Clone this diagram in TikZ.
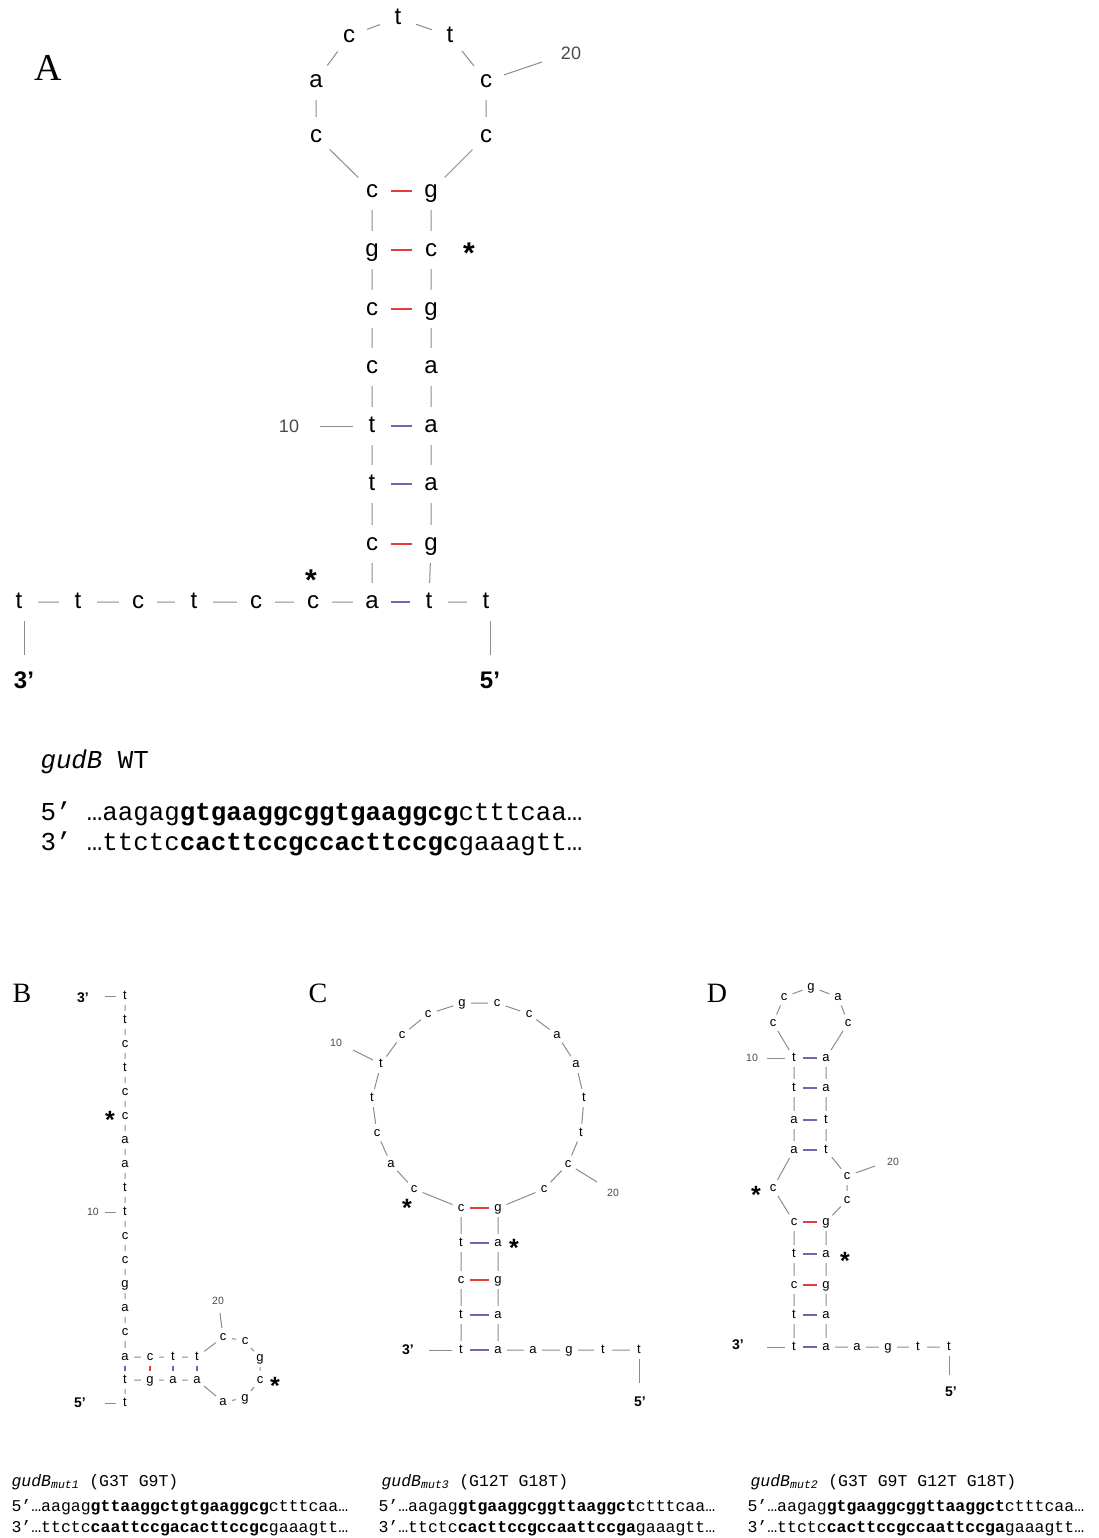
\documentclass[tikz,border=0pt]{standalone}
\usepackage{fontspec}
\setmainfont{Liberation Serif}
\setsansfont{Liberation Sans}
\setmonofont{Liberation Mono}

\definecolor{bbgray}{HTML}{8C8C8C}
\definecolor{gcred}{HTML}{E23B3B}
\definecolor{atblue}{HTML}{6A6AB4}
\definecolor{numgray}{HTML}{4A4A4A}

\tikzset{
  bnt/.style={circle, inner sep=0pt, minimum size=38pt, text height=12.5pt, text depth=0pt,
    font=\sffamily\fontsize{24}{24}\selectfont},
  snt/.style={circle, inner sep=0pt, minimum size=18pt, text height=6.8pt, text depth=0pt,
    font=\sffamily\fontsize{13}{13}\selectfont},
  bb/.style={draw=bbgray, line width=1pt},
  gcbond/.style={draw=gcred, line width=1.2pt},
  atbond/.style={draw=atblue, line width=1.2pt},
  panel/.style={font=\rmfamily\fontsize{28}{28}\selectfont},
  numbig/.style={text=numgray, font=\sffamily\fontsize{18}{18}\selectfont},
  numsmall/.style={text=numgray, font=\sffamily\fontsize{10.5}{10.5}\selectfont},
  endbig/.style={font=\sffamily\bfseries\fontsize{24}{24}\selectfont},
  endsmall/.style={font=\sffamily\bfseries\fontsize{14}{14}\selectfont},
  astbig/.style={inner sep=0pt, font=\sffamily\bfseries\fontsize{30}{30}\selectfont, yshift=-6pt},
  astsmall/.style={inner sep=0pt, font=\sffamily\bfseries\fontsize{25}{25}\selectfont, yshift=-5pt},
  seqbig/.style={anchor=base west, font=\ttfamily\fontsize{25.8}{25.8}\selectfont},
  seqsmall/.style={anchor=base west, font=\ttfamily\fontsize{16.5}{16.5}\selectfont},
}

\begin{document}
\begin{tikzpicture}[x=1pt, y=-1pt]
    \fill[white] (0,0) rectangle (1099,1538);
    \useasboundingbox (0,0) rectangle (1099,1538);

    % Painel A
    \node[panel, font=\rmfamily\fontsize{38}{38}\selectfont] (labA) at (48,68) {A};

    % Bases do painel A
    \node[bnt] (a1) at (19,602) {t};
    \node[bnt] (a2) at (78,602) {t};
    \node[bnt] (a3) at (138,602) {c};
    \node[bnt] (a4) at (194,602) {t};
    \node[bnt] (a5) at (256,602) {c};
    \node[bnt] (a6) at (313,602) {c};
    \node[bnt] (a7) at (372,602) {a};
    \node[bnt] (a8) at (372,544) {c};
    \node[bnt] (a9) at (372,484) {t};
    \node[bnt] (a10) at (372,426) {t};
    \node[bnt] (a11) at (372,367) {c};
    \node[bnt] (a12) at (372,309) {c};
    \node[bnt] (a13) at (372,250) {g};
    \node[bnt] (a14) at (372,191) {c};
    \node[bnt] (a15) at (316,136) {c};
    \node[bnt] (a16) at (316,81) {a};
    \node[bnt] (a17) at (349,36) {c};
    \node[bnt] (a18) at (398,18) {t};
    \node[bnt] (a19) at (450,36) {t};
    \node[bnt] (a20) at (486,81) {c};
    \node[bnt] (a21) at (486,136) {c};
    \node[bnt] (a22) at (431,191) {g};
    \node[bnt] (a23) at (431,250) {c};
    \node[bnt] (a24) at (431,309) {g};
    \node[bnt] (a25) at (431,367) {a};
    \node[bnt] (a26) at (431,426) {a};
    \node[bnt] (a27) at (431,484) {a};
    \node[bnt] (a28) at (431,544) {g};
    \node[bnt] (a29) at (429,602) {t};
    \node[bnt] (a30) at (486,602) {t};

    % Esqueleto e pares
    \draw[bb] (a1) -- (a2) -- (a3) -- (a4) -- (a5) -- (a6) -- (a7) -- (a8) -- (a9) -- (a10)
      -- (a11) -- (a12) -- (a13) -- (a14) -- (a15) -- (a16) -- (a17) -- (a18) -- (a19) -- (a20)
      -- (a21) -- (a22) -- (a23) -- (a24) -- (a25) -- (a26) -- (a27) -- (a28) -- (a29) -- (a30);
    \draw[atbond] (a7) -- (a29);
    \draw[gcbond] (a8) -- (a28);
    \draw[atbond] (a9) -- (a27);
    \draw[atbond] (a10) -- (a26);
    \draw[gcbond] (a12) -- (a24);
    \draw[gcbond] (a13) -- (a23);
    \draw[gcbond] (a14) -- (a22);

    % Marcas e pontas
    \coordinate (a10p) at (320,426);
    \coordinate (a20p) at (542,62);
    \coordinate (a3p) at (24,655);
    \coordinate (a5p) at (490,655);
    \node[numbig] (a10n) at (289,426) {10};
    \node[numbig] (a20n) at (571,53) {20};
    \draw[bb] (a10p) -- (a10);
    \draw[bb] (a20) -- (a20p);
    \draw[bb] (a3p |- a1.south) -- (a3p);
    \draw[bb] (a5p |- a30.south) -- (a5p);
    \node[endbig] (a3e) at (24,680) {3’};
    \node[endbig] (a5e) at (490,680) {5’};
    \node[astbig] (aast1) at (469,247) {*};
    \node[astbig] (aast2) at (311,574) {*};

    % Sequencia WT
    \node[seqbig] (wthead) at (37,768) {\textit{gudB} WT};
    \node[seqbig] (wt5) at (37,820) {5’ …aagag\textbf{gtgaaggcggtgaaggcg}ctttcaa…};
    \node[seqbig] (wt3) at (37,850) {3’ …ttctc\textbf{cacttccgccacttccgc}gaaagtt…};

    % Painel B
    \node[panel] (labB) at (22,993) {B};
    \begin{scope}[every node/.append style={minimum size=14pt}]
    \node[snt] (b1) at (125,996) {t};
    \node[snt] (b2) at (125,1020) {t};
    \node[snt] (b3) at (125,1044) {c};
    \node[snt] (b4) at (125,1068) {t};
    \node[snt] (b5) at (125,1092) {c};
    \node[snt] (b6) at (125,1116) {c};
    \node[snt] (b7) at (125,1140) {a};
    \node[snt] (b8) at (125,1164) {a};
    \node[snt] (b9) at (125,1188) {t};
    \node[snt] (b10) at (125,1212) {t};
    \node[snt] (b11) at (125,1236) {c};
    \node[snt] (b12) at (125,1260) {c};
    \node[snt] (b13) at (125,1284) {g};
    \node[snt] (b14) at (125,1308) {a};
    \node[snt] (b15) at (125,1332) {c};
    \node[snt] (b16) at (125,1357) {a};
    \node[snt] (b17) at (150,1357) {c};
    \node[snt] (b18) at (173,1357) {t};
    \node[snt] (b19) at (197,1357) {t};
    \node[snt] (b20) at (223,1337) {c};
    \node[snt] (b21) at (245,1341) {c};
    \node[snt] (b22) at (260,1358) {g};
    \node[snt] (b23) at (260,1380) {c};
    \node[snt] (b24) at (245,1398) {g};
    \node[snt] (b25) at (223,1402) {a};
    \node[snt] (b26) at (197,1380) {a};
    \node[snt] (b27) at (173,1380) {a};
    \node[snt] (b28) at (150,1380) {g};
    \node[snt] (b29) at (125,1380) {t};
    \node[snt] (b30) at (125,1403) {t};
    \end{scope}

    \draw[bb] (b1) -- (b2) -- (b3) -- (b4) -- (b5) -- (b6) -- (b7) -- (b8) -- (b9) -- (b10)
      -- (b11) -- (b12) -- (b13) -- (b14) -- (b15) -- (b16) -- (b17) -- (b18) -- (b19) -- (b20)
      -- (b21) -- (b22) -- (b23) -- (b24) -- (b25) -- (b26) -- (b27) -- (b28) -- (b29) -- (b30);
    \draw[atbond] (b16) -- (b29);
    \draw[gcbond] (b17) -- (b28);
    \draw[atbond] (b18) -- (b27);
    \draw[atbond] (b19) -- (b26);

    \coordinate (b3p) at (105,996);
    \coordinate (b5p) at (105,1403);
    \coordinate (b10p) at (105,1212);
    \coordinate (b20p) at (220,1313);
    \draw[bb] (b3p) -- (b1);
    \draw[bb] (b5p) -- (b30);
    \draw[bb] (b10p) -- (b10);
    \draw[bb] (b20p) -- (b20);
    \node[endsmall] (b3e) at (83,998) {3’};
    \node[endsmall] (b5e) at (80,1403) {5’};
    \node[numsmall] (b10n) at (93,1212) {10};
    \node[numsmall] (b20n) at (218,1301) {20};
    \node[astsmall] (bast1) at (110,1115) {*};
    \node[astsmall] (bast2) at (275,1381) {*};

    % Painel C
    \node[panel] (labC) at (318,993) {C};
    \node[snt] (c1) at (461,1350) {t};
    \node[snt] (c2) at (461,1315) {t};
    \node[snt] (c3) at (461,1280) {c};
    \node[snt] (c4) at (461,1243) {t};
    \node[snt] (c5) at (461,1208) {c};
    \node[snt] (c6) at (414,1189) {c};
    \node[snt] (c7) at (391,1164) {a};
    \node[snt] (c8) at (377,1133) {c};
    \node[snt] (c9) at (372,1098) {t};
    \node[snt] (c10) at (381,1064) {t};
    \node[snt] (c11) at (402,1035) {c};
    \node[snt] (c12) at (428,1014) {c};
    \node[snt] (c13) at (462,1003) {g};
    \node[snt] (c14) at (497,1003) {c};
    \node[snt] (c15) at (529,1014) {c};
    \node[snt] (c16) at (557,1035) {a};
    \node[snt] (c17) at (576,1064) {a};
    \node[snt] (c18) at (584,1098) {t};
    \node[snt] (c19) at (581,1133) {t};
    \node[snt] (c20) at (568,1164) {c};
    \node[snt] (c21) at (544,1189) {c};
    \node[snt] (c22) at (498,1208) {g};
    \node[snt] (c23) at (498,1243) {a};
    \node[snt] (c24) at (498,1280) {g};
    \node[snt] (c25) at (498,1315) {a};
    \node[snt] (c26) at (498,1350) {a};
    \node[snt] (c27) at (533,1350) {a};
    \node[snt] (c28) at (569,1350) {g};
    \node[snt] (c29) at (603,1350) {t};
    \node[snt] (c30) at (639,1350) {t};

    \draw[bb] (c1) -- (c2) -- (c3) -- (c4) -- (c5) -- (c6) -- (c7) -- (c8) -- (c9) -- (c10)
      -- (c11) -- (c12) -- (c13) -- (c14) -- (c15) -- (c16) -- (c17) -- (c18) -- (c19) -- (c20)
      -- (c21) -- (c22) -- (c23) -- (c24) -- (c25) -- (c26) -- (c27) -- (c28) -- (c29) -- (c30);
    \draw[atbond] (c1) -- (c26);
    \draw[atbond] (c2) -- (c25);
    \draw[gcbond] (c3) -- (c24);
    \draw[atbond] (c4) -- (c23);
    \draw[gcbond] (c5) -- (c22);

    \coordinate (c3p) at (429,1350);
    \coordinate (c5p) at (639,1383);
    \coordinate (c10p) at (353,1050);
    \coordinate (c20p) at (597,1182);
    \draw[bb] (c3p) -- (c1);
    \draw[bb] (c30) -- (c5p);
    \draw[bb] (c10p) -- (c10);
    \draw[bb] (c20) -- (c20p);
    \node[endsmall] (c3e) at (408,1350) {3’};
    \node[endsmall] (c5e) at (640,1402) {5’};
    \node[numsmall] (c10n) at (336,1043) {10};
    \node[numsmall] (c20n) at (613,1193) {20};
    \node[astsmall] (cast1) at (407,1203) {*};
    \node[astsmall] (cast2) at (514,1243) {*};

    % Painel D
    \node[panel] (labD) at (717,993) {D};
    \node[snt] (d1) at (794,1347) {t};
    \node[snt] (d2) at (794,1315) {t};
    \node[snt] (d3) at (794,1285) {c};
    \node[snt] (d4) at (794,1254) {t};
    \node[snt] (d5) at (794,1222) {c};
    \node[snt] (d6) at (773,1188) {c};
    \node[snt] (d7) at (794,1150) {a};
    \node[snt] (d8) at (794,1120) {a};
    \node[snt] (d9) at (794,1088) {t};
    \node[snt] (d10) at (794,1058) {t};
    \node[snt] (d11) at (773,1023) {c};
    \node[snt] (d12) at (784,997) {c};
    \node[snt] (d13) at (811,987) {g};
    \node[snt] (d14) at (838,997) {a};
    \node[snt] (d15) at (848,1023) {c};
    \node[snt] (d16) at (826,1058) {a};
    \node[snt] (d17) at (826,1088) {a};
    \node[snt] (d18) at (826,1120) {t};
    \node[snt] (d19) at (826,1150) {t};
    \node[snt] (d20) at (847,1176) {c};
    \node[snt] (d21) at (847,1200) {c};
    \node[snt] (d22) at (826,1222) {g};
    \node[snt] (d23) at (826,1254) {a};
    \node[snt] (d24) at (826,1285) {g};
    \node[snt] (d25) at (826,1315) {a};
    \node[snt] (d26) at (826,1347) {a};
    \node[snt] (d27) at (857,1347) {a};
    \node[snt] (d28) at (888,1347) {g};
    \node[snt] (d29) at (918,1347) {t};
    \node[snt] (d30) at (949,1347) {t};

    \draw[bb] (d1) -- (d2) -- (d3) -- (d4) -- (d5) -- (d6) -- (d7) -- (d8) -- (d9) -- (d10)
      -- (d11) -- (d12) -- (d13) -- (d14) -- (d15) -- (d16) -- (d17) -- (d18) -- (d19) -- (d20)
      -- (d21) -- (d22) -- (d23) -- (d24) -- (d25) -- (d26) -- (d27) -- (d28) -- (d29) -- (d30);
    \draw[atbond] (d1) -- (d26);
    \draw[atbond] (d2) -- (d25);
    \draw[gcbond] (d3) -- (d24);
    \draw[atbond] (d4) -- (d23);
    \draw[gcbond] (d5) -- (d22);
    \draw[atbond] (d7) -- (d19);
    \draw[atbond] (d8) -- (d18);
    \draw[atbond] (d9) -- (d17);
    \draw[atbond] (d10) -- (d16);

    \coordinate (d3p) at (767,1347);
    \coordinate (d5p) at (949,1375);
    \coordinate (d10p) at (767,1058);
    \coordinate (d20p) at (875,1166);
    \draw[bb] (d3p) -- (d1);
    \draw[bb] (d30) -- (d5p);
    \draw[bb] (d10p) -- (d10);
    \draw[bb] (d20) -- (d20p);
    \node[endsmall] (d3e) at (738,1345) {3’};
    \node[endsmall] (d5e) at (951,1392) {5’};
    \node[numsmall] (d10n) at (752,1058) {10};
    \node[numsmall] (d20n) at (893,1162) {20};
    \node[astsmall] (dast1) at (756,1190) {*};
    \node[astsmall] (dast2) at (845,1256) {*};

    % Sequencias mutantes
    \node[seqsmall] (m1head) at (8,1486) {\textit{gudB}\textsubscript{\textit{mut1}} (G3T G9T)};
    \node[seqsmall] (m1s5) at (8,1511) {5’…aagag\textbf{gttaaggctgtgaaggcg}ctttcaa…};
    \node[seqsmall] (m1s3) at (8,1532) {3’…ttctc\textbf{caattccgacacttccgc}gaaagtt…};
    \node[seqsmall] (m3head) at (378,1486) {\textit{gudB}\textsubscript{\textit{mut3}} (G12T G18T)};
    \node[seqsmall] (m3s5) at (375,1511) {5’…aagag\textbf{gtgaaggcggttaaggct}ctttcaa…};
    \node[seqsmall] (m3s3) at (375,1532) {3’…ttctc\textbf{cacttccgccaattccga}gaaagtt…};
    \node[seqsmall] (m2head) at (747,1486) {\textit{gudB}\textsubscript{\textit{mut2}} (G3T G9T G12T G18T)};
    \node[seqsmall] (m2s5) at (744,1511) {5’…aagag\textbf{gtgaaggcggttaaggct}ctttcaa…};
    \node[seqsmall] (m2s3) at (744,1532) {3’…ttctc\textbf{cacttccgccaattccga}gaaagtt…};

\end{tikzpicture}
\end{document}
